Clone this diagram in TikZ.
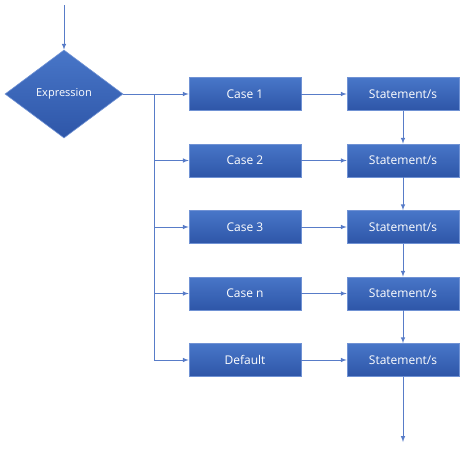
\documentclass[tikz,border=0pt]{standalone}
\usepackage{fontspec}
\setmainfont{Open Sans}
\usepackage{tikz}
\usetikzlibrary{arrows,shapes,positioning}
\definecolor{boxblue}{RGB}{72,118,200}
\definecolor{boxdark}{RGB}{46,86,168}
\definecolor{edgeblue}{RGB}{112,146,212}
\definecolor{lineblue}{RGB}{88,124,200}

\begin{document}
\begin{tikzpicture}[x=1pt,y=-1pt,node distance=66.5pt,on grid,>=latex,
        every edge/.style={draw=lineblue,line width=1pt},
        block/.style={rectangle,draw=edgeblue,line width=0.6pt,top color=boxblue,bottom color=boxdark,text=white,minimum width=112pt,minimum height=33pt,font=\fontsize{12}{14}\selectfont},
        decision/.style={diamond,draw=edgeblue,line width=0.6pt,top color=boxblue,bottom color=boxdark,text=white,inner sep=0pt,minimum width=118pt,minimum height=88pt,font=\fontsize{11}{13}\selectfont}]
                \useasboundingbox (0,0) rectangle (474,455);

                \node[decision]  (expr)    at (64,94)                {Expression};
                \node[block]     (case1)   at (245,94)               {Case 1};
                \node[block]     (case2)   [below=of case1]          {Case 2};
                \node[block]     (case3)   [below=of case2]          {Case 3};
                \node[block]     (casen)   [below=of case3]          {Case n};
                \node[block]     (default) [below=of casen]          {Default};
                \node[block]     (stmt1)   [right=158pt of case1]    {Statement/s};
                \node[block]     (stmt2)   [right=158pt of case2]    {Statement/s};
                \node[block]     (stmt3)   [right=158pt of case3]    {Statement/s};
                \node[block]     (stmtn)   [right=158pt of casen]    {Statement/s};
                \node[block]     (stmtd)   [right=158pt of default]  {Statement/s};

                \coordinate      (start)   at (64,5);
                \coordinate      (bus)     at (154,94);
                \coordinate      (finish)  at (403,442);

            \path[->]   (start) edge (expr)
                        (expr)  edge (case1)
                        (case1) edge (stmt1)
                        (case2) edge (stmt2)
                        (case3) edge (stmt3)
                        (casen) edge (stmtn)
                        (default) edge (stmtd)
                        (stmt1) edge (stmt2)
                        (stmt2) edge (stmt3)
                        (stmt3) edge (stmtn)
                        (stmtn) edge (stmtd)
                        (stmtd) edge (finish);
            \path[->]   (bus) edge[to path={|- (\tikztotarget)}] (case2)
                        (bus) edge[to path={|- (\tikztotarget)}] (case3)
                        (bus) edge[to path={|- (\tikztotarget)}] (casen)
                        (bus) edge[to path={|- (\tikztotarget)}] (default);
\end{tikzpicture}
\end{document}
